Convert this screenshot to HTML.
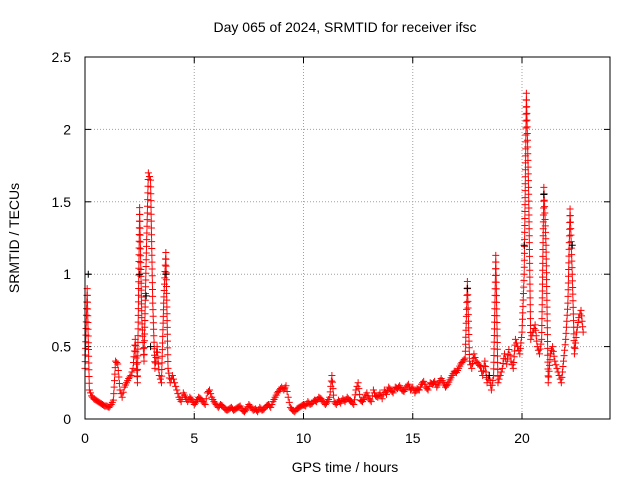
<!DOCTYPE html>
<html><head><meta charset="utf-8"><style>
body{margin:0;background:#fff;font-family:"Liberation Sans",sans-serif}
svg text{font-family:"Liberation Sans",sans-serif;font-size:14px;fill:#000}
</style></head><body>
<svg id="chart" width="640" height="480" xmlns="http://www.w3.org/2000/svg">
<text x="345" y="32" text-anchor="middle">Day 065 of 2024, SRMTID for receiver ifsc</text>
<text x="345" y="472" text-anchor="middle">GPS time / hours</text>
<text transform="translate(19,238) rotate(-90)" text-anchor="middle">SRMTID / TECUs</text>
<g id="grid"></g><g id="ticks"></g><g id="marks"></g>
<rect x="85" y="57" width="525" height="362" fill="none" stroke="#000"/>
</svg>
<script>
const xTicks=[0,5,10,15,20];
const yTicks=[0,0.5,1,1.5,2,2.5];
const yTickLabels=["0","0.5","1","1.5","2","2.5"];
const tec=[0.35,0.9,0.2,0.16,0.14,0.13,0.12,0.11,0.1,0.09,
0.09,0.08,0.1,0.13,0.4,0.38,0.2,0.15,0.22,0.25,
0.28,0.3,0.35,0.55,0.25,1.46,0.7,0.4,1.1,1.7,
1.65,0.8,0.35,0.5,0.3,0.25,0.8,1.15,0.35,0.25,
0.3,0.25,0.2,0.15,0.12,0.18,0.15,0.12,0.15,0.13,
0.1,0.12,0.15,0.14,0.12,0.1,0.18,0.2,0.15,0.12,
0.1,0.08,0.1,0.09,0.07,0.06,0.07,0.08,0.06,0.07,
0.08,0.09,0.06,0.05,0.07,0.1,0.08,0.06,0.07,0.05,
0.08,0.06,0.07,0.09,0.1,0.08,0.12,0.15,0.18,0.2,
0.22,0.2,0.23,0.15,0.08,0.06,0.05,0.07,0.08,0.09,
0.1,0.09,0.12,0.1,0.11,0.13,0.12,0.15,0.14,0.12,
0.1,0.12,0.15,0.3,0.12,0.1,0.13,0.11,0.14,0.12,
0.15,0.13,0.12,0.1,0.2,0.25,0.13,0.12,0.15,0.18,
0.14,0.12,0.2,0.16,0.15,0.18,0.14,0.2,0.17,0.22,
0.2,0.18,0.22,0.21,0.23,0.2,0.19,0.22,0.24,0.2,
0.22,0.18,0.21,0.2,0.24,0.26,0.22,0.2,0.25,0.24,
0.26,0.22,0.25,0.28,0.25,0.22,0.24,0.27,0.3,0.33,
0.32,0.35,0.38,0.4,0.42,0.95,0.4,0.35,0.45,0.4,
0.38,0.36,0.3,0.4,0.25,0.3,0.2,0.3,1.13,0.25,
0.3,0.35,0.45,0.38,0.48,0.4,0.35,0.55,0.5,0.45,
0.6,1.0,2.25,1.6,0.55,0.6,0.65,0.5,0.45,0.55,
1.6,1.2,0.25,0.45,0.5,0.4,0.35,0.3,0.25,0.4,
0.55,0.8,1.45,1.0,0.45,0.6,0.7,0.75,0.6];
const hours=tec.map((v,i)=>i/10);
const blackHours=[0.15,2.5,2.8,3.7,17.5,18.5,20.1,21.0,22.3,3.0];
const blackTec=[1.0,1.0,0.85,1.0,0.9,0.3,1.2,1.55,1.2,0.5];
const NS="http://www.w3.org/2000/svg";
const X=h=>85+h*21.85, Y=v=>419-v*144.8;
const grid=document.getElementById('grid'),ticks=document.getElementById('ticks'),marks=document.getElementById('marks');
function mk(tag,attrs,parent){const e=document.createElementNS(NS,tag);for(const k in attrs)e.setAttribute(k,attrs[k]);parent.appendChild(e);return e;}
xTicks.forEach(t=>{
 const g=mk('line',{x1:X(t),x2:X(t),y1:57,y2:419,stroke:'#a0a0a0','stroke-dasharray':'1,2'},grid);
 
 
 const tx=mk('text',{x:X(t),y:443,'text-anchor':'middle'},ticks);tx.textContent=t;
 
 
 mk('line',{x1:X(t),x2:X(t),y1:419,y2:413,stroke:'#000'},ticks);
 mk('line',{x1:X(t),x2:X(t),y1:57,y2:63,stroke:'#000'},ticks);
});
yTicks.forEach((t,i)=>{
 const g=mk('line',{x1:85,x2:610,y1:Y(t),y2:Y(t),stroke:'#a0a0a0','stroke-dasharray':'1,2'},grid);
 
 
 const tx=mk('text',{x:71,y:Y(t)+5,'text-anchor':'end'},ticks);tx.textContent=yTickLabels[i];
 
 
 mk('line',{x1:85,x2:91,y1:Y(t),y2:Y(t),stroke:'#000'},ticks);
 mk('line',{x1:610,x2:604,y1:Y(t),y2:Y(t),stroke:'#000'},ticks);
});
function plus(x,y,c,name){
 const p=mk('path',{d:`M${x-3.5},${y}h7M${x},${y-3.5}v7`,stroke:c,'stroke-width':1,fill:'none'},marks);
 
 
}
for(let i=0;i<tec.length;i++){
 const x0=X(hours[i]),y0=Y(tec[i]);
 plus(x0,y0,'#ff0000','srmtid-point');
 if(i<tec.length-1){
  const x1=X(hours[i+1]),y1=Y(tec[i+1]);
  const n=Math.max(2,Math.ceil(Math.abs(y1-y0)/7),Math.ceil((x1-x0)/1.6));
  for(let k=1;k<n;k++){const f=k/n;plus(x0+(x1-x0)*f,y0+(y1-y0)*f,'#ff0000','srmtid-point');}
 }
}
blackHours.forEach((h,i)=>plus(X(h),Y(blackTec[i]),'#000','srmtid-point-alt'));
</script>
</body></html>
